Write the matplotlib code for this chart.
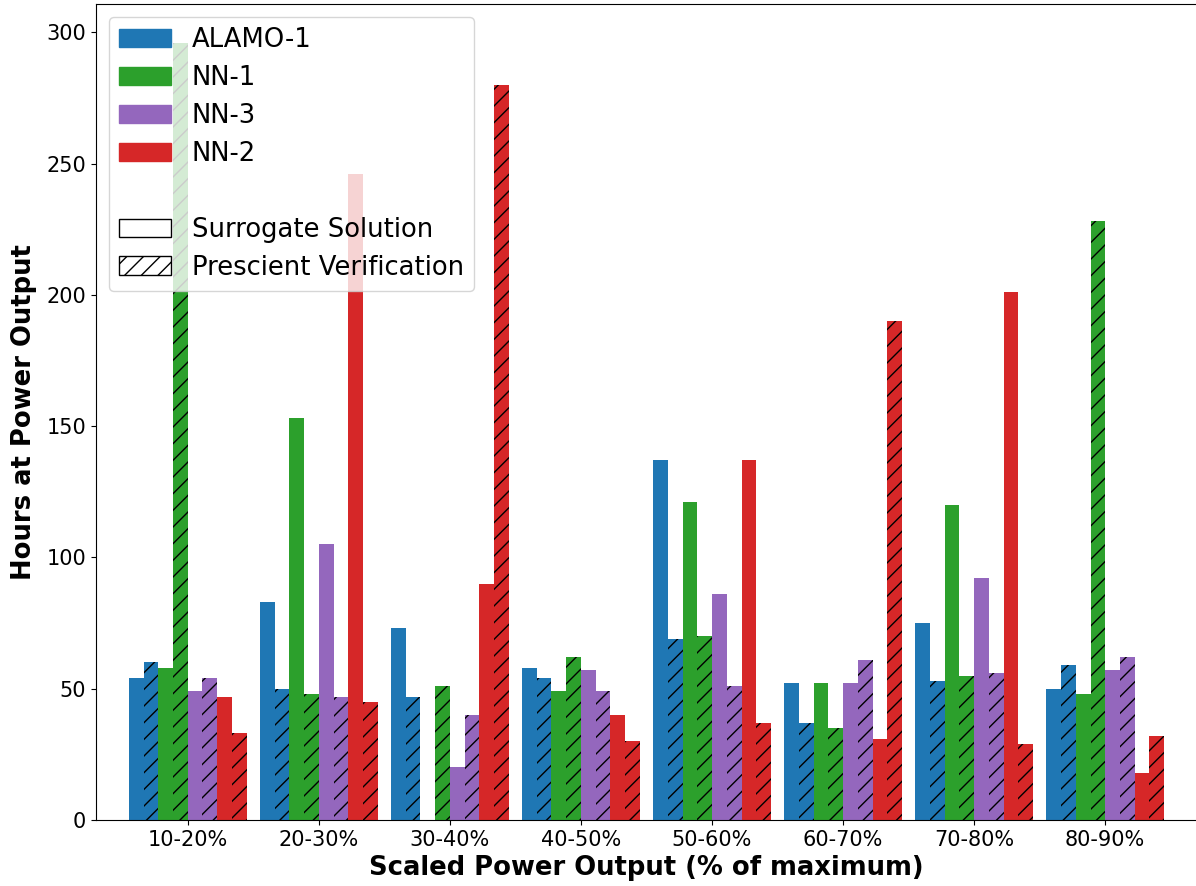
import matplotlib.pyplot as plt
import numpy as np
from matplotlib.patches import Patch

plt.rcParams['font.size'] = 15

bins = ["10-20%", "20-30%", "30-40%", "40-50%", "50-60%", "60-70%", "70-80%", "80-90%"]
models = ["ALAMO-1", "NN-1", "NN-3", "NN-2"]
colors = ["tab:blue", "tab:green", "tab:purple", "tab:red"]

# surrogate solution / prescient verification hours per bin
alamo1_sur = [54, 83, 73, 58, 137, 52, 75, 50]
alamo1_pre = [60, 50, 47, 54, 69, 37, 53, 59]
nn1_sur = [58, 153, 0, 49, 121, 52, 120, 48]
nn1_pre = [296, 48, 51, 62, 70, 35, 55, 228]
nn3_sur = [49, 105, 20, 57, 86, 52, 92, 57]
nn3_pre = [54, 47, 40, 49, 51, 61, 56, 62]
nn2_sur = [47, 246, 90, 40, 137, 31, 201, 18]
nn2_pre = [33, 45, 280, 30, 37, 190, 29, 32]

series = [(alamo1_sur, alamo1_pre), (nn1_sur, nn1_pre),
          (nn3_sur, nn3_pre), (nn2_sur, nn2_pre)]

fig = plt.figure(figsize=(11.96, 8.86), dpi=100)
ax = fig.add_axes([96/1196, 66/886, 1101/1196, 816/886])

x = np.arange(len(bins))
w = 0.9 / 8
k = 0
for (sur, pre), c in zip(series, colors):
    ax.bar(x - 0.45 + w*(k + 0.5), sur, w, color=c, linewidth=0)
    ax.bar(x - 0.45 + w*(k + 1.5), pre, w, color=c, linewidth=0, hatch='//')
    k += 2

ax.set_xlim(-0.7, 7.7)
ax.set_xticks(x)
ax.set_xticklabels(bins)
ax.set_xlabel("Scaled Power Output (% of maximum)", fontsize=18.6, fontweight='bold', labelpad=4)
ax.set_ylabel("Hours at Power Output", fontsize=18.6, fontweight='bold', labelpad=7)

handles = [Patch(color=c) for c in colors]
handles.append(Patch(visible=False))
handles.append(Patch(facecolor='white', edgecolor='black'))
handles.append(Patch(facecolor='white', edgecolor='black', hatch='//'))
labels = models + [" ", "Surrogate Solution", "Prescient Verification"]
ax.legend(handles, labels, loc='upper left', fontsize=18.6, labelspacing=0.46)

fig.savefig("out.png", dpi=100)
plt.close('all')
